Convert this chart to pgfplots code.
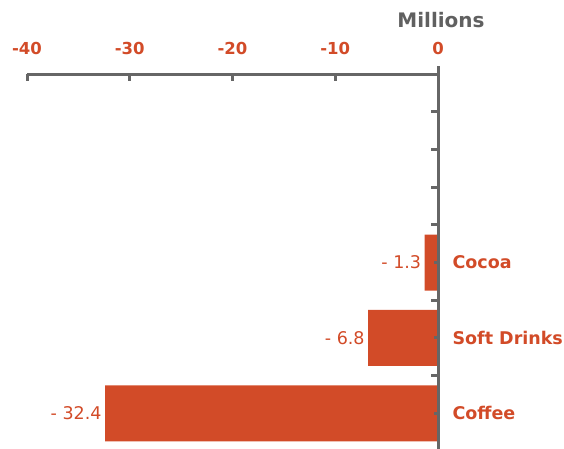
\documentclass[border=0pt]{standalone}
\usepackage{fontspec}
\setmainfont{DejaVu Sans}
\usepackage{pgfplots}
\pgfplotsset{compat=1.18}
\definecolor{barred}{RGB}{210,75,40}
\definecolor{axisgray}{RGB}{102,102,102}
\definecolor{titlegray}{RGB}{96,96,96}

\begin{document}
\begin{tikzpicture}[x=1pt,y=1pt]
\useasboundingbox (0,0) rectangle (564,448);
\begin{axis}[
  at={(27pt,-3pt)}, anchor=south west,
  width=411pt, height=377pt, scale only axis,
  xmin=-40, xmax=0, ymin=0.5, ymax=5.5,
  axis x line*=top, axis y line*=right,
  axis line style={axisgray, line width=3pt},
  axis on top, clip=false,
  /pgf/number format/assume math mode=true,
  tick align=inside, major tick length=7pt,
  tick style={axisgray, line width=3pt},
  xtick={-40,-30,-20,-10,0},
  xticklabel style={font=\bfseries\fontsize{16.5}{19}\selectfont, text=barred, yshift=16pt},
  ytick={1.5,2.5,3.5,4,4.5,5}, yticklabels={},
  extra y ticks={1,2,3},
  extra y tick labels={Coffee,Soft Drinks,Cocoa},
  extra y tick style={major tick length=4pt,
    yticklabel style={font=\bfseries\fontsize{17.5}{20}\selectfont, text=barred, anchor=west, xshift=11pt}},
]
% labels show the size of each decline, so meta is the magnitude
\addplot[xbar, fill=barred, draw=none, bar width=56pt, point meta={-x},
  nodes near coords={- \pgfmathprintnumber[fixed,precision=1,fixed zerofill]{\pgfplotspointmeta}},
  nodes near coords style={anchor=east, text=barred, font=\fontsize{17.5}{20}\selectfont}]
  coordinates {(-32.4,1) (-6.8,2) (-1.3,3)};
% value axis runs a little past the top axis line
\draw[axisgray, line width=3pt] (rel axis cs:1,1) -- ([yshift=8pt]rel axis cs:1,1);
\node[font=\bfseries\fontsize{20}{24}\selectfont, text=titlegray] at (rel axis cs:1,1) [yshift=54pt, xshift=3pt] {Millions};
\end{axis}
\end{tikzpicture}
\end{document}
